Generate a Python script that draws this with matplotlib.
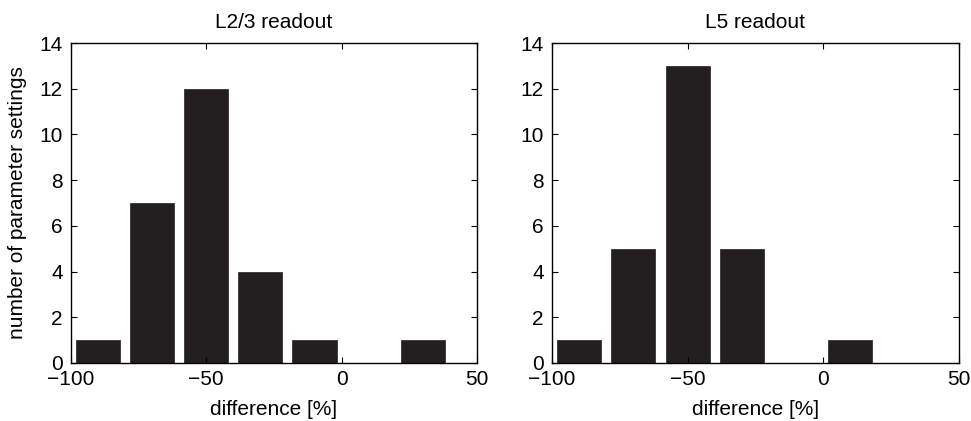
import matplotlib
matplotlib.use("Agg")
import matplotlib.pyplot as plt

plt.rcParams["font.family"] = ["Liberation Sans", "DejaVu Sans"]
plt.rcParams["font.size"] = 15

# bin centres (percent difference) and counts for each readout
bin_centers = [-90, -70, -50, -30, -10, 10, 30]
counts_l23 = [1, 7, 12, 4, 1, 0, 1]
counts_l5 = [1, 5, 13, 5, 0, 1, 0]
titles = ["L2/3 readout", "L5 readout"]
xticks = [-100, -50, 0, 50]
yticks = [0, 2, 4, 6, 8, 10, 12, 14]

bar_color = "#231f20"

fig = plt.figure(figsize=(9.71, 4.21), dpi=100)
ax1 = fig.add_axes([0.0731, 0.1378, 0.418, 0.760])
ax2 = fig.add_axes([0.5685, 0.1378, 0.419, 0.760])

for ax, counts, title in zip([ax1, ax2], [counts_l23, counts_l5], titles):
    ax.bar(bin_centers, counts, width=16.3, color=bar_color,
           edgecolor=bar_color, linewidth=0.5)
    ax.set_xlim(-100, 50)
    ax.set_ylim(0, 14)
    ax.set_xticks(xticks)
    ax.set_yticks(yticks)
    ax.tick_params(direction="in", top=True, right=True, length=4,
                   width=0.8, labelsize=15)
    ax.tick_params(axis="x", pad=5)
    ax.tick_params(axis="y", pad=6)
    for s in ax.spines.values():
        s.set_linewidth(1.0)
    ax.set_title(title, fontsize=15, pad=11)
    ax.set_xlabel("difference [%]", fontsize=15, labelpad=8)

ax1.set_ylabel("number of parameter settings", fontsize=15, labelpad=9)

fig.savefig("out.png", dpi=100)
